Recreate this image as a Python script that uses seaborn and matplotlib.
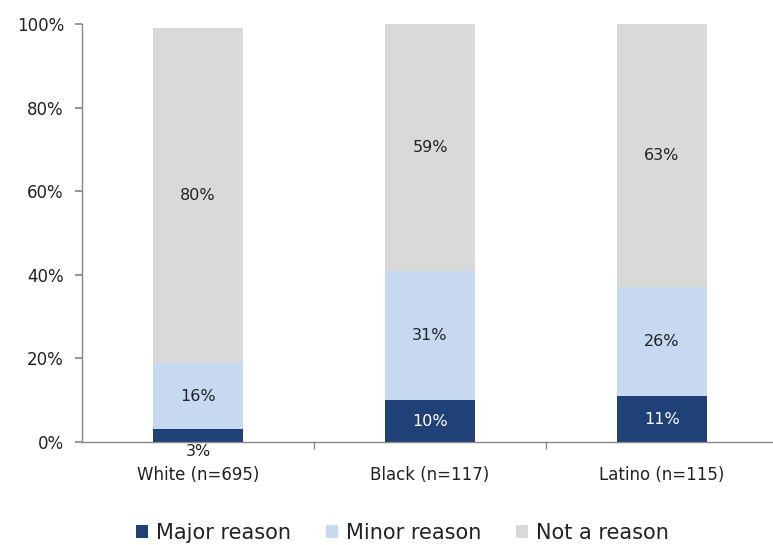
import matplotlib
matplotlib.use("Agg")
import matplotlib.pyplot as plt
import seaborn as sns
import pandas as pd
from matplotlib.patches import Patch
from matplotlib.ticker import FuncFormatter

groups = ["White (n=695)", "Black (n=117)", "Latino (n=115)"]
major = [3, 10, 11]
minor = [16, 31, 26]
not_reason = [80, 59, 63]
series_names = ["Major reason", "Minor reason", "Not a reason"]
colors = ["#1F4178", "#C6D9F1", "#D9D9D9"]
label_colors = ["white", "#222222", "#222222"]

sns.set_theme(style="white")
plt.rcParams["font.family"] = ["DejaVu Sans"]

df = pd.DataFrame({"group": groups, "major": major, "minor": minor, "not": not_reason})

fig = plt.figure(figsize=(7.73, 5.45), dpi=100)
ax = fig.add_axes([82 / 773, 103 / 545, 696 / 773, 418 / 545])

bottom = [0, 0, 0]
for col, name, color, tcol in zip(["major", "minor", "not"], series_names, colors, label_colors):
    vals = df[col].tolist()
    sns.barplot(data=df, x="group", y=col, color=color, bottom=bottom, width=0.39,
                ax=ax, saturation=1, edgecolor="none", linewidth=0)
    for i, v in enumerate(vals):
        if col == "major" and v < 5:
            y, c = -2.2, "#222222"
        else:
            y, c = bottom[i] + v / 2, tcol
        ax.text(i, y, f"{v}%", ha="center", va="center", fontsize=11.5, color=c)
    bottom = [b + v for b, v in zip(bottom, vals)]

ax.set_xlim(-0.5, 2.5)
ax.set_ylim(0, 100)
ax.set_yticks(range(0, 101, 20))
ax.yaxis.set_major_formatter(FuncFormatter(lambda v, p: f"{int(v)}%"))
ax.set_xlabel("")
ax.set_ylabel("")

for s in ["top", "right"]:
    ax.spines[s].set_visible(False)
for s in ["left", "bottom"]:
    ax.spines[s].set_color("#868686")
    ax.spines[s].set_linewidth(1)

ax.tick_params(axis="y", which="major", left=True, length=5, color="#868686",
               labelsize=12, labelcolor="#222222", pad=8)
ax.tick_params(axis="x", which="major", bottom=False, labelsize=12,
               labelcolor="#222222", pad=11)
ax.set_xticks([0.5, 1.5], minor=True)
ax.tick_params(axis="x", which="minor", bottom=True, length=5, color="#868686")

handles = [Patch(facecolor=c, edgecolor="none", label=n) for c, n in zip(colors, series_names)]
fig.legend(handles=handles, loc="center", bbox_to_anchor=(402.5 / 773, (545 - 533) / 545),
           ncol=3, frameon=False, fontsize=15, handlelength=0.56, handleheight=0.56,
           handletextpad=0.37, columnspacing=1.7, labelcolor="#222222",
           borderpad=0, borderaxespad=0)

fig.savefig("out.png", dpi=100)
